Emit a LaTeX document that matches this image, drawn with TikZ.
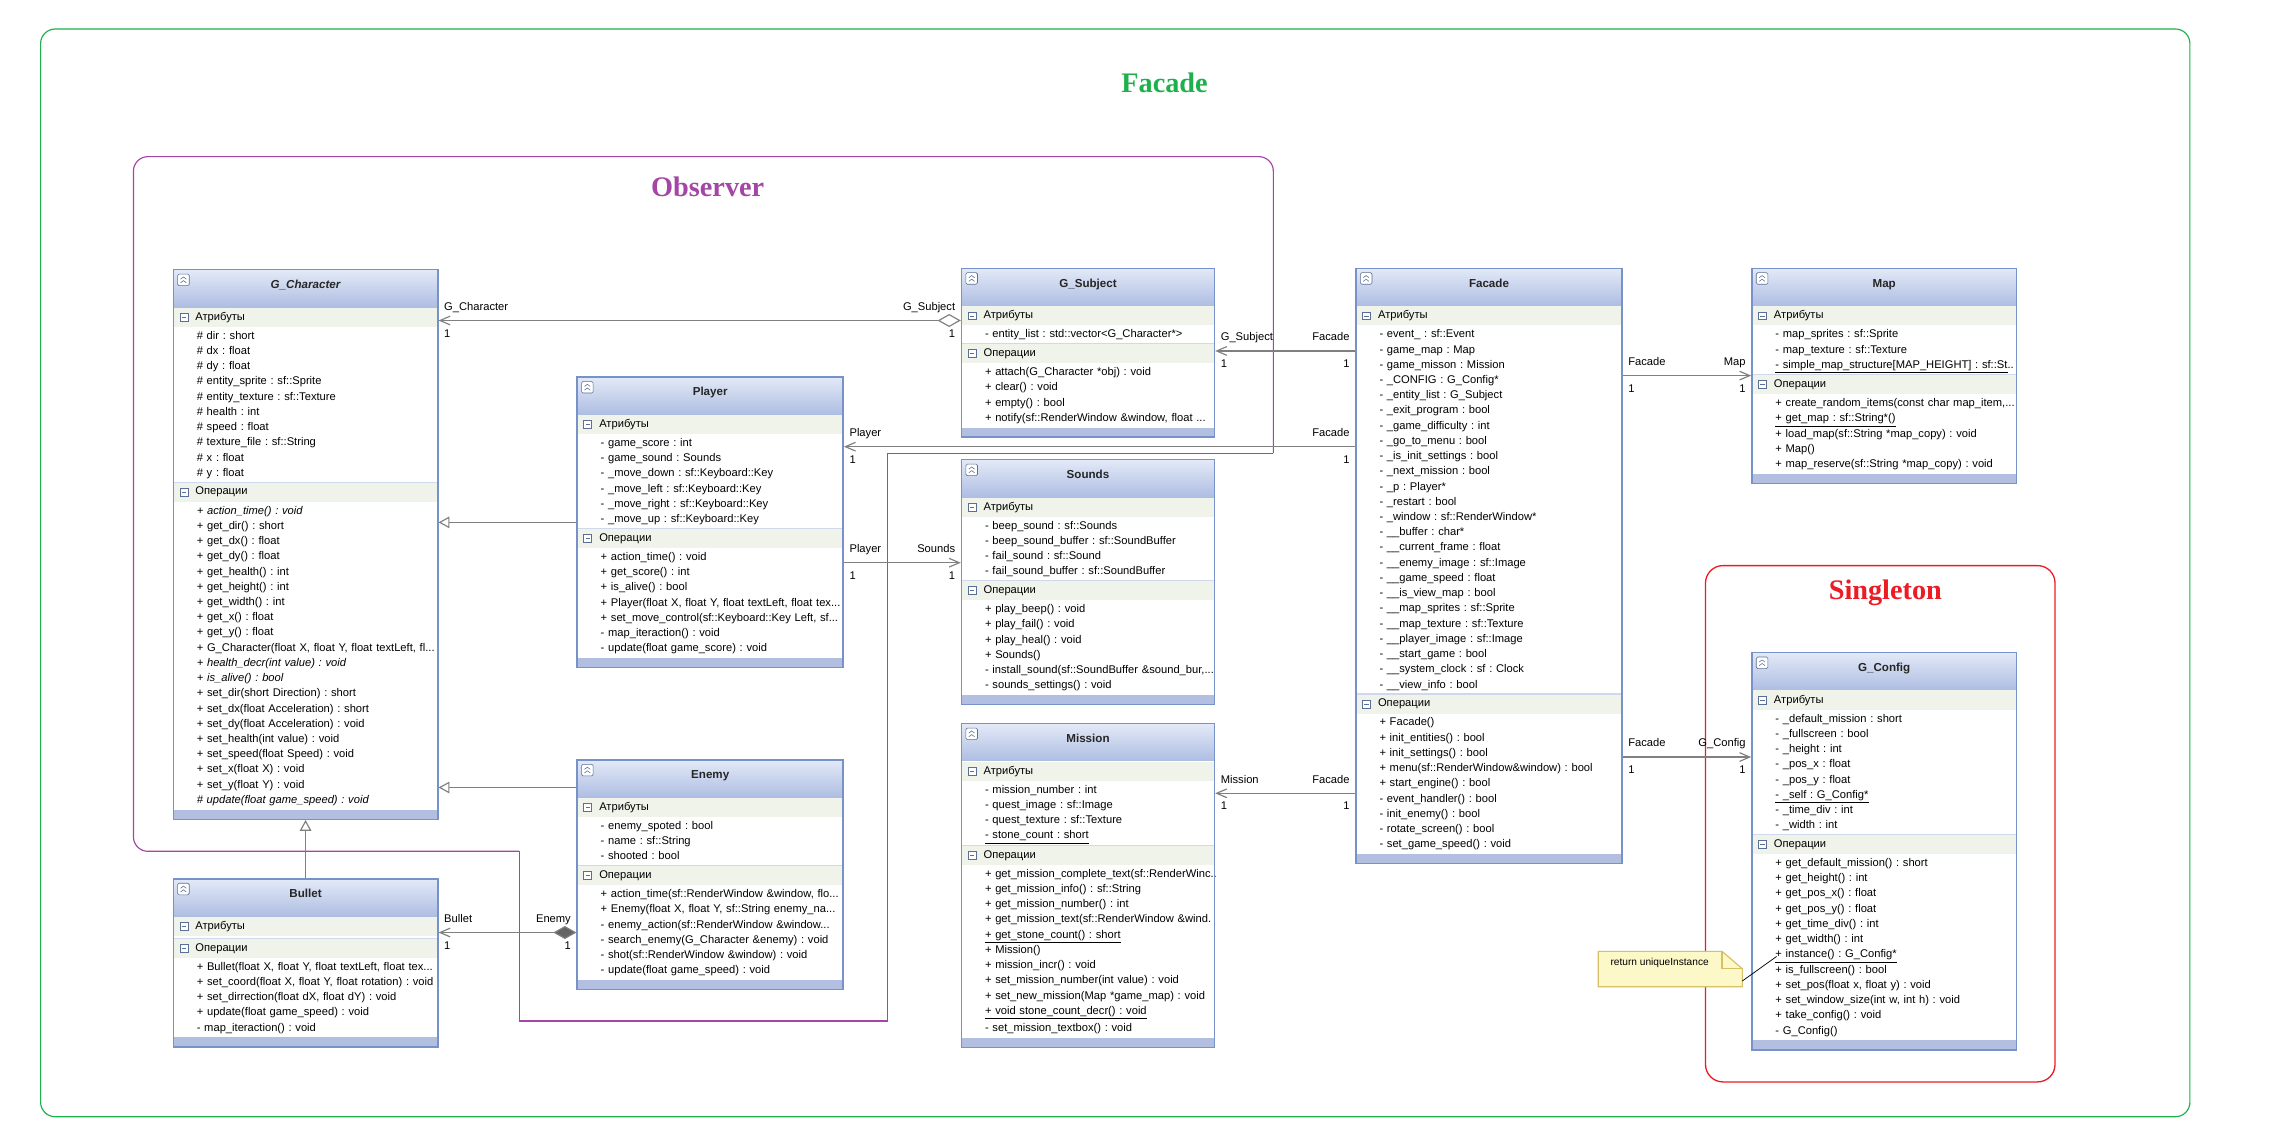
\documentclass[tikz,border=0pt]{standalone}
\usepackage{fontspec}
\setmainfont{Liberation Sans}
\newfontfamily\titlefont{Liberation Serif}
\usetikzlibrary{arrows.meta,positioning,fit,calc}
\frenchspacing

\definecolor{linegray}{RGB}{128,128,128}
\definecolor{clsborder}{RGB}{118,146,201}
\definecolor{headtop}{RGB}{226,233,247}
\definecolor{headbot}{RGB}{174,189,226}
\definecolor{bandcol}{RGB}{240,243,233}
\definecolor{footcol}{RGB}{178,191,225}
\definecolor{sepcol}{RGB}{208,216,238}
\definecolor{iconcol}{RGB}{90,110,150}
\definecolor{diamondgray}{RGB}{100,100,100}
\definecolor{facadegreen}{RGB}{30,176,76}
\definecolor{obspurple}{RGB}{163,70,165}
\definecolor{singred}{RGB}{236,28,36}
\definecolor{notefill}{RGB}{252,248,200}
\definecolor{noteline}{RGB}{214,192,100}

\newcommand\clsfont{\fontsize{7.7}{10.5}\selectfont}

% class box: name, top left corner, width, title, attributes, operations
\newcommand\umlclass[6]{%
  \node[clshead, minimum width=#3pt, anchor=north west] (#1-h) at (#2) {#4};
  \node[clsband, text width=#3pt, anchor=north west] (#1-ab) at (#1-h.south west) {\hspace*{15pt}Атрибуты};
  \if\relax\detokenize{#5}\relax
    \node[inner sep=0pt, minimum size=1pt, anchor=north west] (#1-al) at ([xshift=16pt]#1-ab.south west) {};
  \else
    \node[clslist, anchor=north west] (#1-al) at ([xshift=16pt]#1-ab.south west) {#5};
  \fi
  \node[clsband, text width=#3pt, anchor=north west] (#1-ob) at (#1-ab.west |- #1-al.south) {\hspace*{15pt}Операции};
  \node[clslist, anchor=north west] (#1-ol) at ([xshift=16pt]#1-ob.south west) {#6};
  \node[clsfoot, minimum width=#3pt, anchor=north west] (#1-f) at (#1-ob.west |- #1-ol.south) {};
  \draw[clssep] (#1-ob.north west) -- (#1-ob.north east);
  \node[clsbox, fit=(#1-h)(#1-f)] (#1) {};
  \draw[clsicon, fill=white, rounded corners=1pt] ([shift={(3pt,-3pt)}]#1-h.north west) rectangle ++(8pt,-8pt);
  \draw[clsicon] ([shift={(5pt,-6.5pt)}]#1-h.north west) -- ++(2pt,1.5pt) -- ++(2pt,-1.5pt)
                 ([shift={(5pt,-9pt)}]#1-h.north west) -- ++(2pt,1.5pt) -- ++(2pt,-1.5pt);
  \foreach \b in {ab,ob}{
    \draw[clsicon, fill=white] ([shift={(4.5pt,-2.75pt)}]#1-\b.west) rectangle ++(5.5pt,5.5pt);
    \draw[clsicon] ([shift={(5.8pt,0pt)}]#1-\b.west) -- ++(2.9pt,0pt);
  }%
}

\begin{document}
\begin{tikzpicture}
  [x = 1pt, y = -1pt,
  clshead/.style = {inner sep = 0pt, minimum height = 25.5pt, top color = headtop,
     bottom color = headbot, text = black!85, font = \fontsize{8}{10}\selectfont\bfseries,
     text height = 6pt, text depth = 6pt},
  clsband/.style = {fill = bandcol, inner sep = 0pt, minimum height = 13.3pt,
     align = left, font = \clsfont},
  clslist/.style = {inner xsep = 0pt, inner ysep = 0.75pt, text width = 250pt,
     align = left, font = \clsfont,
     execute at begin node = \strut, execute at end node = \strut},
  clsfoot/.style = {fill = footcol, inner sep = 0pt, minimum height = 6.4pt},
  clsbox/.style = {draw = clsborder, line width = 1pt, inner sep = 0pt},
  clssep/.style = {draw = sepcol, line width = 0.8pt},
  clsicon/.style = {draw = iconcol, line width = 0.4pt},
  lbl/.style = {font = \clsfont, inner xsep = 3.5pt, inner ysep = 5.5pt,
     text height = 5.6pt, text depth = 1.2pt},
  assoc/.style = {draw = linegray, line width = 0.8pt,
     -{Straight Barb[length = 7pt, width = 6pt]}},
  aggr/.style = {assoc, {Diamond[fill = white, length = 16pt, width = 9pt]}-{Straight Barb[length = 7pt, width = 6pt]}},
  comp/.style = {assoc, {Diamond[fill = diamondgray, length = 16pt, width = 9pt]}-{Straight Barb[length = 7pt, width = 6pt]}},
  inherit/.style = {draw = linegray, line width = 0.8pt,
     -{Triangle[fill = white, length = 7.5pt, width = 8pt]}},
  grouptitle/.style = {font = \titlefont\fontsize{19.5}{22}\selectfont\bfseries},
  notebox/.style = {fill = notefill, draw = noteline, line width = 0.8pt}]

  \path[fill = white] (0, 0) rectangle (1568, 787.5);

  % pattern frames
  \draw[draw = facadegreen, line width = 0.8pt, rounded corners = 10pt] (28, 20) rectangle (1510, 770);
  \node[grouptitle, text = facadegreen] (tfacade) at (803, 57) {Facade};

  \draw[draw = obspurple, line width = 0.8pt, rounded corners = 10pt]
     (358, 587) -- (92, 587) -- (92, 108) -- (878, 108) -- (878, 312.5);
  \draw[draw = obspurple, line width = 0.8pt]
     (878, 312.5) -- (612, 312.5) -- (612, 704) -- (358, 704) -- (358, 587);
  \node[grouptitle, text = obspurple] (tobserver) at (488, 129) {Observer};

  \draw[draw = singred, line width = 0.9pt, rounded corners = 12pt] (1176, 390) rectangle (1417, 746);
  \node[grouptitle, text = singred] (tsingleton) at (1300, 409) {Singleton};

  % classes
  \umlclass{gchar}{119.5, 186}{182}{\itshape G\_Character}{%
    \# dir : short\\
    \# dx : float\\
    \# dy : float\\
    \# entity\_sprite : sf::Sprite\\
    \# entity\_texture : sf::Texture\\
    \# health : int\\
    \# speed : float\\
    \# texture\_file : sf::String\\
    \# x : float\\
    \# y : float}{%
    {\itshape + action\_time() : void}\\
    + get\_dir() : short\\
    + get\_dx() : float\\
    + get\_dy() : float\\
    + get\_health() : int\\
    + get\_height() : int\\
    + get\_width() : int\\
    + get\_x() : float\\
    + get\_y() : float\\
    + G\_Character(float X, float Y, float textLeft, fl...\\
    {\itshape + health\_decr(int value) : void}\\
    {\itshape + is\_alive() : bool}\\
    + set\_dir(short Direction) : short\\
    + set\_dx(float Acceleration) : short\\
    + set\_dy(float Acceleration) : void\\
    + set\_health(int value) : void\\
    + set\_speed(float Speed) : void\\
    + set\_x(float X) : void\\
    + set\_y(float Y) : void\\
    {\itshape \# update(float game\_speed) : void}}

  \umlclass{player}{398, 260}{183}{Player}{%
    - game\_score : int\\
    - game\_sound : Sounds\\
    - \_move\_down : sf::Keyboard::Key\\
    - \_move\_left : sf::Keyboard::Key\\
    - \_move\_right : sf::Keyboard::Key\\
    - \_move\_up : sf::Keyboard::Key}{%
    + action\_time() : void\\
    + get\_score() : int\\
    + is\_alive() : bool\\
    + Player(float X, float Y, float textLeft, float tex...\\
    + set\_move\_control(sf::Keyboard::Key Left, sf...\\
    - map\_iteraction() : void\\
    - update(float game\_score) : void}

  \umlclass{enemy}{398, 524}{183}{Enemy}{%
    - enemy\_spoted : bool\\
    - name : sf::String\\
    - shooted : bool}{%
    + action\_time(sf::RenderWindow \&window, flo...\\
    + Enemy(float X, float Y, sf::String enemy\_na...\\
    - enemy\_action(sf::RenderWindow \&window...\\
    - search\_enemy(G\_Character \&enemy) : void\\
    - shot(sf::RenderWindow \&window) : void\\
    - update(float game\_speed) : void}

  \umlclass{bullet}{119.5, 606}{182}{Bullet}{}{%
    + Bullet(float X, float Y, float textLeft, float tex...\\
    + set\_coord(float X, float Y, float rotation) : void\\
    + set\_dirrection(float dX, float dY) : void\\
    + update(float game\_speed) : void\\
    - map\_iteraction() : void}

  \umlclass{gsub}{663, 185}{174}{G\_Subject}{%
    - entity\_list : std::vector<G\_Character*>}{%
    + attach(G\_Character *obj) : void\\
    + clear() : void\\
    + empty() : bool\\
    + notify(sf::RenderWindow \&window, float ...}

  \umlclass{sounds}{663, 317}{174}{Sounds}{%
    - beep\_sound : sf::Sounds\\
    - beep\_sound\_buffer : sf::SoundBuffer\\
    - fail\_sound : sf::Sound\\
    - fail\_sound\_buffer : sf::SoundBuffer}{%
    + play\_beep() : void\\
    + play\_fail() : void\\
    + play\_heal() : void\\
    + Sounds()\\
    - install\_sound(sf::SoundBuffer \&sound\_bur,...\\
    - sounds\_settings() : void}

  \umlclass{mission}{663, 499}{174}{Mission}{%
    - mission\_number : int\\
    - quest\_image : sf::Image\\
    - quest\_texture : sf::Texture\\
    \underline{- stone\_count : short}}{%
    + get\_mission\_complete\_text(sf::RenderWinc..\\
    + get\_mission\_info() : sf::String\\
    + get\_mission\_number() : int\\
    + get\_mission\_text(sf::RenderWindow \&wind.\\
    \underline{+ get\_stone\_count() : short}\\
    + Mission()\\
    + mission\_incr() : void\\
    + set\_mission\_number(int value) : void\\
    + set\_new\_mission(Map *game\_map) : void\\
    \underline{+ void stone\_count\_decr() : void}\\
    - set\_mission\_textbox() : void}

  \umlclass{facade}{935, 185}{183}{Facade}{%
    - event\_ : sf::Event\\
    - game\_map : Map\\
    - game\_misson : Mission\\
    - \_CONFIG : G\_Config*\\
    - \_entity\_list : G\_Subject\\
    - \_exit\_program : bool\\
    - \_game\_difficulty : int\\
    - \_go\_to\_menu : bool\\
    - \_is\_init\_settings : bool\\
    - \_next\_mission : bool\\
    - \_p : Player*\\
    - \_restart : bool\\
    - \_window : sf::RenderWindow*\\
    - \_\_buffer : char*\\
    - \_\_current\_frame : float\\
    - \_\_enemy\_image : sf::Image\\
    - \_\_game\_speed : float\\
    - \_\_is\_view\_map : bool\\
    - \_\_map\_sprites : sf::Sprite\\
    - \_\_map\_texture : sf::Texture\\
    - \_\_player\_image : sf::Image\\
    - \_\_start\_game : bool\\
    - \_\_system\_clock : sf : Clock\\
    - \_\_view\_info : bool}{%
    + Facade()\\
    + init\_entities() : bool\\
    + init\_settings() : bool\\
    + menu(sf::RenderWindow\&window) : bool\\
    + start\_engine() : bool\\
    - event\_handler() : bool\\
    - init\_enemy() : bool\\
    - rotate\_screen() : bool\\
    - set\_game\_speed() : void}

  \umlclass{map}{1208, 185}{182}{Map}{%
    - map\_sprites : sf::Sprite\\
    - map\_texture : sf::Texture\\
    \underline{- simple\_map\_structure[MAP\_HEIGHT] : sf::St}..}{%
    + create\_random\_items(const char map\_item,...\\
    \underline{+ get\_map : sf::String*()}\\
    + load\_map(sf::String *map\_copy) : void\\
    + Map()\\
    + map\_reserve(sf::String *map\_copy) : void}

  \umlclass{gconf}{1208, 450}{182}{G\_Config}{%
    - \_default\_mission : short\\
    - \_fullscreen : bool\\
    - \_height : int\\
    - \_pos\_x : float\\
    - \_pos\_y : float\\
    \underline{- \_self : G\_Config*}\\
    - \_time\_div : int\\
    - \_width : int}{%
    + get\_default\_mission() : short\\
    + get\_height() : int\\
    + get\_pos\_x() : float\\
    + get\_pos\_y() : float\\
    + get\_time\_div() : int\\
    + get\_width() : int\\
    \underline{+ instance() : G\_Config*}\\
    + is\_fullscreen() : bool\\
    + set\_pos(float x, float y) : void\\
    + set\_window\_size(int w, int h) : void\\
    + take\_config() : void\\
    - G\_Config()}

  % observer links
  \draw[aggr] (gsub.west |- 0, 221) -- (gchar.east |- 0, 221)
     node[lbl, at start, above left] (gsub-r) {G\_Subject}
     node[lbl, at start, below left] (gsub-m) {1}
     node[lbl, at end, above right] (gchar-r) {G\_Character}
     node[lbl, at end, below right] (gchar-m) {1};
  \draw[inherit] (player.west) -- (player.west -| gchar.east);
  \draw[inherit] (enemy.west |- 0, 543) -- (gchar.east |- 0, 543);
  \draw[inherit] (bullet.north) -- (gchar.south);
  \draw[comp] (enemy.west |- 0, 643) -- (bullet.east |- 0, 643)
     node[lbl, at start, above left] (enemy-r) {Enemy}
     node[lbl, at start, below left] (enemy-m) {1}
     node[lbl, at end, above right] (bullet-r) {Bullet}
     node[lbl, at end, below right] (bullet-m) {1};
  \draw[assoc] (player.east |- 0, 388) -- (sounds.west |- 0, 388)
     node[lbl, at start, above right] (ps-r) {Player}
     node[lbl, at start, below right] (ps-m) {1}
     node[lbl, at end, above left] (sounds-r) {Sounds}
     node[lbl, at end, below left] (sounds-m) {1};

  % facade links
  \draw[assoc] (facade.west |- 0, 242) -- (gsub.east |- 0, 242)
     node[lbl, at start, above left] (fg-r) {Facade}
     node[lbl, at start, below left] (fg-m) {1}
     node[lbl, at end, above right] (gs-r) {G\_Subject}
     node[lbl, at end, below right] (gs-m) {1};
  \draw[assoc] (facade.west |- 0, 308) -- (player.east |- 0, 308)
     node[lbl, at start, above left] (fp-r) {Facade}
     node[lbl, at start, below left] (fp-m) {1}
     node[lbl, at end, above right] (pl-r) {Player}
     node[lbl, at end, below right] (pl-m) {1};
  \draw[assoc] (facade.west |- 0, 547) -- (mission.east |- 0, 547)
     node[lbl, at start, above left] (fm-r) {Facade}
     node[lbl, at start, below left] (fm-m) {1}
     node[lbl, at end, above right] (mi-r) {Mission}
     node[lbl, at end, below right] (mi-m) {1};
  \draw[assoc] (facade.east |- 0, 259) -- (map.west |- 0, 259)
     node[lbl, at start, above right] (fmap-r) {Facade}
     node[lbl, at start, below right] (fmap-m) {1}
     node[lbl, at end, above left] (map-r) {Map}
     node[lbl, at end, below left] (map-m) {1};
  \draw[assoc] (facade.east |- 0, 522) -- (gconf.west |- 0, 522)
     node[lbl, at start, above right] (fc-r) {Facade}
     node[lbl, at start, below right] (fc-m) {1}
     node[lbl, at end, above left] (gc-r) {G\_Config}
     node[lbl, at end, below left] (gc-m) {1};

  % note on instance()
  \node[inner sep = 0pt, minimum width = 99pt, minimum height = 24pt, anchor = north west] (note) at (1102, 656) {};
  \draw[notebox] (note.north west) -- ([xshift = -14pt]note.north east) -- ([yshift = -12pt]note.north east)
     -- (note.south east) -- (note.south west) -- cycle;
  \draw[draw = noteline, line width = 0.8pt] ([xshift = -14pt]note.north east) -- ([xshift = -14pt, yshift = -12pt]note.north east)
     -- ([yshift = -12pt]note.north east);
  \node[font = \fontsize{7}{9}\selectfont, anchor = base west] (notetext) at (1107, 665.5) {return uniqueInstance};
  \coordinate (inst) at (1225, 659.5);
  \draw[line width = 0.5pt] ([yshift = 4pt]note.south east) -- (inst);

\end{tikzpicture}
\end{document}
